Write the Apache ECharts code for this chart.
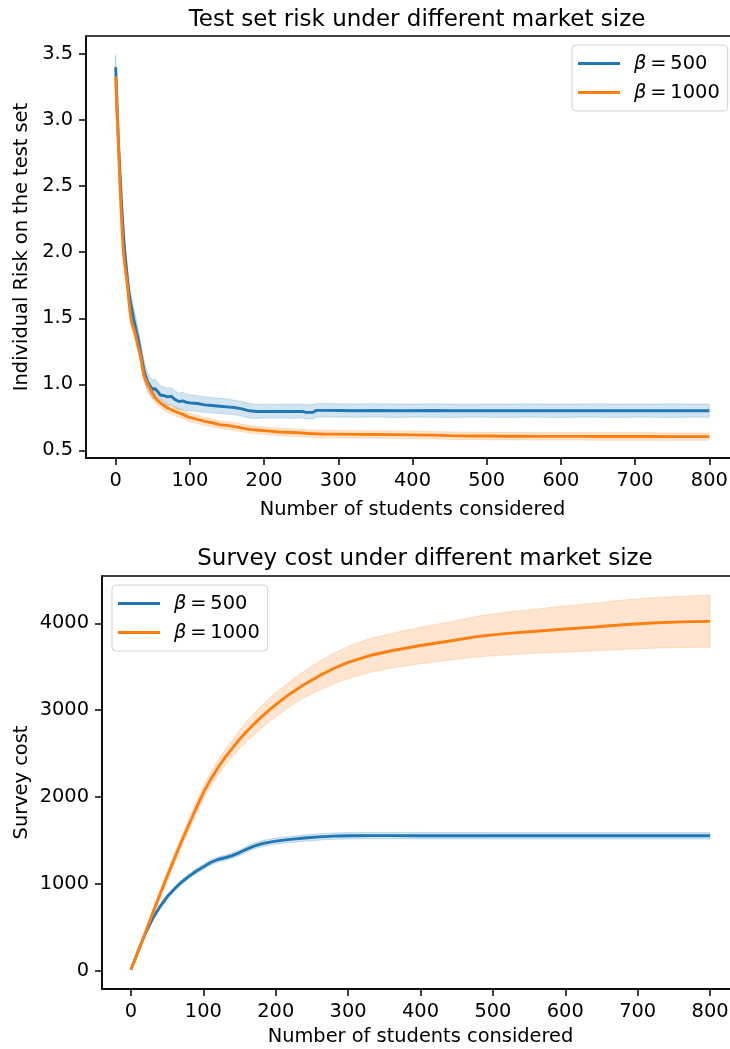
<!DOCTYPE html>
<html>
<head>
<meta charset="utf-8">
<script src="https://cdn.jsdelivr.net/npm/echarts@6/dist/echarts.min.js"></script>
<style>
  html, body { margin: 0; padding: 0; background: #fff; overflow: hidden; width: 730px; height: 1049px; }
  #chart { width: 745px; height: 1049px; }
</style>
</head>
<body>
<div id="chart"></div>
<script>
// ---- Top panel: individual risk on the test set ----
const riskX = [0,2,4,6,8,10,12,14,16,18,20,22,24,26,28,30,32,34,36,38,40,43,46,50,53,56,60,65,70,75,80,85,90,95,100,
  110,120,130,140,150,160,170,180,190,200,220,240,252,256,266,270,280,300,325,350,375,400,425,450,475,500,
  525,550,575,600,625,650,675,700,725,750,775,800];

const risk500 = [3.40,3.08,2.80,2.58,2.36,2.17,2.02,1.90,1.79,1.69,1.62,1.56,1.50,1.45,1.40,1.35,1.29,1.23,1.17,1.11,1.07,
  1.02,0.99,0.96,0.97,0.95,0.92,0.915,0.905,0.91,0.885,0.87,0.875,0.865,0.86,
  0.855,0.845,0.84,0.835,0.83,0.825,0.815,0.80,0.795,0.795,0.796,0.795,0.796,0.788,0.788,0.803,0.803,0.802,0.801,0.802,
  0.801,0.801,0.802,0.801,0.801,0.801,0.801,0.801,0.801,0.801,0.801,0.801,0.801,0.801,0.801,0.801,0.801,0.801];
const risk500Lo = [3.31,2.99,2.71,2.50,2.28,2.09,1.94,1.82,1.71,1.61,1.54,1.48,1.42,1.37,1.32,1.27,1.21,1.15,1.10,1.04,1.00,
  0.95,0.92,0.89,0.90,0.88,0.855,0.85,0.84,0.845,0.82,0.81,0.81,0.80,0.80,
  0.795,0.79,0.785,0.78,0.775,0.77,0.76,0.745,0.742,0.745,0.746,0.744,0.746,0.738,0.739,0.752,0.753,0.752,0.751,0.753,
  0.750,0.752,0.751,0.750,0.752,0.751,0.750,0.752,0.751,0.750,0.752,0.751,0.750,0.752,0.751,0.750,0.752,0.751];
const risk500Hi = [3.49,3.17,2.89,2.67,2.45,2.26,2.10,1.98,1.87,1.77,1.70,1.65,1.59,1.54,1.49,1.44,1.37,1.31,1.25,1.19,1.14,
  1.09,1.06,1.03,1.04,1.02,0.99,0.98,0.97,0.975,0.95,0.935,0.94,0.93,0.92,
  0.915,0.905,0.90,0.895,0.89,0.88,0.87,0.855,0.85,0.848,0.85,0.849,0.852,0.845,0.847,0.856,0.855,0.853,0.852,0.854,
  0.852,0.851,0.853,0.852,0.850,0.852,0.851,0.853,0.851,0.852,0.851,0.853,0.851,0.852,0.851,0.853,0.851,0.852];

const risk1000 = [3.33,3.02,2.78,2.47,2.24,2.03,1.92,1.83,1.74,1.62,1.52,1.46,1.43,1.39,1.34,1.29,1.25,1.20,1.13,1.07,1.04,
  1.00,0.97,0.93,0.90,0.88,0.86,0.84,0.82,0.81,0.795,0.785,0.775,0.76,0.75,
  0.735,0.72,0.71,0.695,0.69,0.68,0.67,0.66,0.655,0.65,0.64,0.636,0.632,0.63,0.627,0.626,0.625,0.624,0.622,0.621,
  0.62,0.618,0.616,0.612,0.61,0.609,0.608,0.608,0.607,0.607,0.607,0.606,0.606,0.606,0.606,0.605,0.605,0.605];
const risk1000Lo = [3.26,2.95,2.71,2.40,2.17,1.97,1.86,1.77,1.68,1.56,1.46,1.41,1.38,1.34,1.29,1.24,1.20,1.15,1.08,1.03,1.00,
  0.96,0.93,0.89,0.86,0.845,0.825,0.805,0.785,0.775,0.76,0.752,0.742,0.728,0.718,
  0.704,0.69,0.68,0.666,0.661,0.651,0.642,0.632,0.627,0.622,0.612,0.608,0.604,0.602,0.599,0.598,0.597,0.596,0.594,0.593,
  0.592,0.59,0.588,0.584,0.582,0.581,0.58,0.58,0.579,0.579,0.579,0.578,0.578,0.578,0.578,0.577,0.577,0.577];
const risk1000Hi = [3.41,3.09,2.85,2.54,2.31,2.10,1.98,1.89,1.80,1.68,1.58,1.52,1.48,1.44,1.39,1.34,1.30,1.25,1.18,1.12,1.08,
  1.04,1.01,0.97,0.94,0.915,0.895,0.875,0.855,0.845,0.83,0.818,0.808,0.792,0.782,
  0.766,0.75,0.74,0.725,0.719,0.709,0.698,0.688,0.683,0.678,0.668,0.664,0.66,0.658,0.655,0.654,0.653,0.652,0.65,0.649,
  0.648,0.646,0.644,0.64,0.638,0.637,0.636,0.636,0.635,0.635,0.635,0.634,0.634,0.634,0.634,0.633,0.633,0.633];

// ---- Bottom panel: survey cost ----
const costX = [0,10,20,30,40,50,60,70,80,90,100,110,120,130,140,150,160,170,180,190,200,220,240,260,280,300,
  330,360,400,440,480,520,560,600,640,680,720,760,800];

const cost500 = [10,225,430,600,735,850,940,1020,1085,1145,1195,1245,1280,1300,1325,1360,1400,1435,1460,1478,1492,
  1512,1527,1540,1549,1553,1555,1555,1554,1554,1554,1553,1553,1553,1553,1553,1553,1553,1553];
const cost500Lo = [5,210,410,578,712,826,915,994,1058,1117,1166,1215,1250,1269,1293,1327,1366,1400,1425,1443,1456,
  1476,1490,1503,1512,1516,1518,1518,1517,1517,1517,1516,1516,1516,1516,1516,1516,1516,1516];
const cost500Hi = [15,240,450,622,758,874,965,1046,1112,1173,1224,1275,1310,1331,1357,1393,1434,1470,1495,1513,1528,
  1548,1564,1577,1586,1590,1592,1592,1591,1591,1591,1590,1590,1590,1590,1590,1590,1590,1590];

const cost1000 = [10,220,440,660,875,1085,1290,1490,1680,1870,2050,2200,2335,2455,2560,2665,2755,2840,2920,2995,3065,
  3190,3300,3395,3480,3550,3630,3685,3745,3797,3850,3885,3910,3935,3958,3985,4005,4017,4023];
const cost1000Lo = [5,205,415,625,830,1035,1235,1430,1615,1800,1975,2120,2250,2365,2465,2560,2640,2715,2790,2860,2925,
  3045,3145,3230,3305,3365,3435,3485,3535,3577,3615,3640,3655,3670,3683,3700,3715,3722,3725];
const cost1000Hi = [15,235,465,695,920,1135,1345,1550,1745,1940,2125,2280,2420,2545,2655,2770,2870,2965,3050,3130,3205,
  3335,3455,3560,3655,3735,3825,3885,3955,4017,4085,4130,4165,4200,4233,4270,4295,4312,4325];

// ---- Tick labels ----
const xTicks = [0,100,200,300,400,500,600,700,800];
const riskTicks = [0.5,1.0,1.5,2.0,2.5,3.0,3.5];
const costTicks = [0,1000,2000,3000,4000];

const BLUE = '#1f77b4';
const ORANGE = '#ff7f0e';
const FONT = 'DejaVu Sans';
const NAME500 = 'β\u2009=\u2009500';
const NAME1000 = 'β\u2009=\u20091000';

function pairs(xs, ys) { return xs.map((x, i) => [x, ys[i]]); }

// Shaded band between lower and upper curves, drawn as one polygon.
function band(xs, lo, hi, rgb, g) {
  return {
    type: 'custom', xAxisIndex: g, yAxisIndex: g, silent: true, z: 1, clip: true,
    data: [[xs[0], lo[0]]],
    renderItem: function (params, api) {
      const pts = [];
      for (let i = 0; i < xs.length; i++) pts.push(api.coord([xs[i], hi[i]]));
      for (let i = xs.length - 1; i >= 0; i--) pts.push(api.coord([xs[i], lo[i]]));
      return {
        type: 'polygon', shape: { points: pts },
        style: { fill: 'rgba(' + rgb + ',0.2)', stroke: 'rgba(' + rgb + ',0.2)', lineWidth: 1 }
      };
    }
  };
}

function line(name, xs, ys, color, g) {
  return {
    name: name, type: 'line', xAxisIndex: g, yAxisIndex: g, z: 2,
    data: pairs(xs, ys), showSymbol: false, symbol: 'none', color: color,
    lineStyle: { color: color, width: 2.9 }, clip: true
  };
}

const axisLineStyle = { color: '#000', width: 1.5 };
const labelStyle = { color: '#000', fontSize: 19.4, fontFamily: FONT };

function xAxis(g, gap) {
  return {
    type: 'value', gridIndex: g, min: -40, max: 840,
    axisLine: { show: true, onZero: false, lineStyle: axisLineStyle },
    axisTick: { show: true, inside: false, length: 7, lineStyle: axisLineStyle, customValues: xTicks },
    axisLabel: Object.assign({ margin: 13, customValues: xTicks }, labelStyle),
    splitLine: { show: false },
    name: 'Number of students considered', nameLocation: 'middle', nameGap: gap,
    nameTextStyle: labelStyle
  };
}

function yAxis(g, min, max, ticks, fmt, name, gap) {
  return {
    type: 'value', gridIndex: g, min: min, max: max,
    axisLine: { show: true, onZero: false, lineStyle: axisLineStyle },
    axisTick: { show: true, inside: false, length: 7, lineStyle: axisLineStyle, customValues: ticks },
    axisLabel: Object.assign({ margin: 13, customValues: ticks, formatter: fmt }, labelStyle),
    splitLine: { show: false },
    name: name, nameLocation: 'middle', nameGap: gap, nameMoveOverlap: false, nameTextStyle: labelStyle
  };
}

function legend(left, top) {
  return {
    orient: 'vertical', left: left, top: top,
    data: [NAME500, NAME1000],
    icon: 'rect', itemWidth: 42, itemHeight: 3, itemGap: 10,
    padding: [9, 8, 9, 6],
    borderColor: '#d2d2d2', borderWidth: 1, borderRadius: 4, backgroundColor: '#fff',
    selectedMode: false,
    formatter: function (n) { return n.replace('β', '{i|β}'); },
    textStyle: {
      color: '#000', fontSize: 19.4, fontFamily: FONT, padding: [0, 0, 0, 9],
      rich: { i: { fontStyle: 'italic', fontSize: 19.4, fontFamily: FONT, color: '#000' } }
    }
  };
}

const chart = echarts.init(document.getElementById('chart'), null, { renderer: 'canvas' });
chart.setOption({
  animation: false,
  backgroundColor: '#fff',
  title: [
    { text: 'Test set risk under different market size', left: 412, top: 4, textAlign: 'center',
      textStyle: { fontSize: 23, fontWeight: 'normal', fontFamily: FONT, color: '#000' } },
    { text: 'Survey cost under different market size', left: 420, top: 543, textAlign: 'center',
      textStyle: { fontSize: 23, fontWeight: 'normal', fontFamily: FONT, color: '#000' } }
  ],
  legend: [legend(572, 45), legend(112, 585)],
  grid: [
    { left: 86, top: 36, width: 653, height: 422, show: true, borderColor: '#000', borderWidth: 1.5, backgroundColor: 'transparent' },
    { left: 102, top: 576, width: 637, height: 413, show: true, borderColor: '#000', borderWidth: 1.5, backgroundColor: 'transparent' }
  ],
  xAxis: [xAxis(0, 42), xAxis(1, 38)],
  yAxis: [
    yAxis(0, 0.443, 3.636, riskTicks, v => v.toFixed(1), 'Individual Risk on the test set', 55),
    yAxis(1, -212, 4546, costTicks, v => String(v), 'Survey cost', 71)
  ],
  series: [
    band(riskX, risk500Lo, risk500Hi, '31,119,180', 0),
    band(riskX, risk1000Lo, risk1000Hi, '255,127,14', 0),
    line(NAME500, riskX, risk500, BLUE, 0),
    line(NAME1000, riskX, risk1000, ORANGE, 0),
    band(costX, cost500Lo, cost500Hi, '31,119,180', 1),
    band(costX, cost1000Lo, cost1000Hi, '255,127,14', 1),
    line(NAME500, costX, cost500, BLUE, 1),
    line(NAME1000, costX, cost1000, ORANGE, 1)
  ]
});
</script>
</body>
</html>
